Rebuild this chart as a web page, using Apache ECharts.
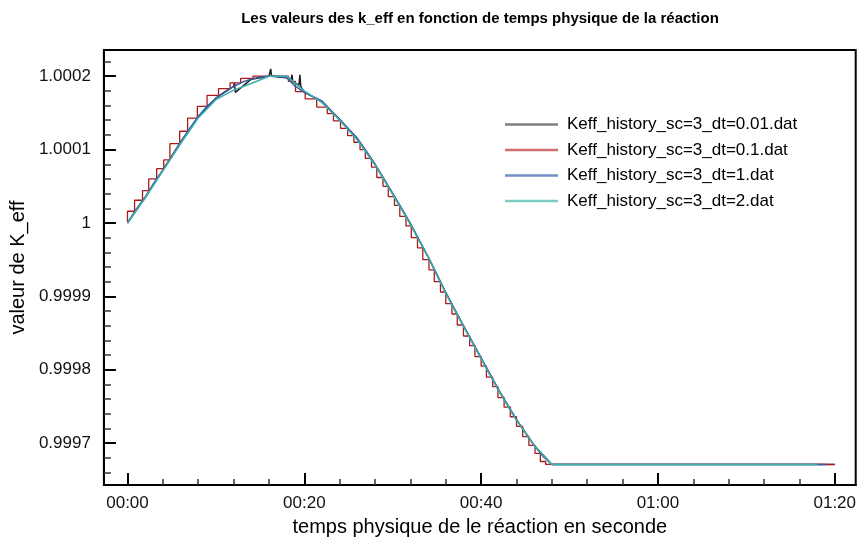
<!DOCTYPE html>
<html>
<head>
<meta charset="utf-8">
<title>k_eff</title>
<script src="https://cdn.jsdelivr.net/npm/echarts@6/dist/echarts.min.js"></script>
<style>
html, body { margin: 0; padding: 0; background: #fff; }
#chart { width: 859px; height: 545px; }
</style>
</head>
<body>
<div id="chart"></div>
<script>
// noms des fichiers (légende)
const seriesNames = [
    'Keff_history_sc=3_dt=0.01.dat',
    'Keff_history_sc=3_dt=0.1.dat',
    'Keff_history_sc=3_dt=1.dat',
    'Keff_history_sc=3_dt=2.dat'
];

// dt=0.01 (noir) - quelques pics près du maximum
const tDt001 = [0, 2, 4, 6, 8, 10, 12, 12.1, 12.2, 14, 16, 16.2, 16.3, 18, 18.5, 18.6, 18.7, 19.4, 19.5, 19.6,
    20, 22, 24, 26, 28, 30, 32, 34, 36, 38, 40, 42, 44, 46, 48, 80];
const kDt001 = [1.000000, 1.000035, 1.000072, 1.000110, 1.000145, 1.000170, 1.000186, 1.000191, 1.000178, 1.000196,
    1.000200, 1.000210, 1.000200, 1.000198, 1.000195, 1.000202, 1.000192, 1.000188, 1.000202, 1.000186,
    1.000178, 1.000166, 1.000141, 1.000115, 1.000080, 1.000040, 0.999999, 0.999954, 0.999905, 0.999860,
    0.999816, 0.999772, 0.999732, 0.999697, 0.999671, 0.999671];

// dt=0.1 (rouge, en escalier)
const tDt01 = [0, 0.8, 1.7, 2.4, 3.3, 4.1, 4.8, 5.9, 6.8, 7.9, 9.0, 10.3, 11.6, 12.8, 14.2, 15.6, 18.2,
    19.0, 20.1, 21.4, 22.6, 23.3, 24.1, 24.9, 25.6, 26.3, 26.9, 27.6, 28.2, 28.9, 29.5, 30.2, 30.8, 31.5,
    32.1, 32.8, 33.4, 34.1, 34.7, 35.4, 36.0, 36.7, 37.3, 38.0, 38.7, 39.3, 40.0, 40.6, 41.3, 41.9, 42.6,
    43.3, 44.0, 44.7, 45.4, 46.1, 46.7, 47.3, 47.6, 80];
const kDt01 = [1.000000, 1.000016, 1.000031, 1.000044, 1.000060, 1.000074, 1.000086, 1.000108, 1.000125,
    1.000143, 1.000159, 1.000174, 1.000183, 1.000191, 1.000197, 1.000200, 1.000200,
    1.000193, 1.000179, 1.000169, 1.000158, 1.000149, 1.000139, 1.000129, 1.000119, 1.000110, 1.000100,
    1.000088, 1.000076, 1.000062, 1.000050, 1.000036, 1.000024, 1.000009, 0.999996, 0.999980, 0.999966,
    0.999950, 0.999936, 0.999920, 0.999906, 0.999890, 0.999876, 0.999861, 0.999846, 0.999833, 0.999818,
    0.999805, 0.999790, 0.999777, 0.999762, 0.999749, 0.999736, 0.999723, 0.999709, 0.999697, 0.999686,
    0.999675, 0.999671, 0.999671];

// dt=1 (bleu)
const tDt1 = [0, 1, 2, 3, 4, 5, 6, 7, 8, 9, 10, 11, 12, 13, 14, 15, 16, 17, 18, 19, 20, 21, 22, 23, 24,
    25, 26, 27, 28, 29, 30, 31, 32, 33, 34, 35, 36, 37, 38, 39, 40, 41, 42, 43, 44, 45, 46, 47, 48, 79];
const kDt1 = [1.000000, 1.000019, 1.000035, 1.000055, 1.000072, 1.000090, 1.000110, 1.000128, 1.000145,
    1.000159, 1.000170, 1.000179, 1.000186, 1.000192, 1.000196, 1.000199, 1.000200, 1.000200, 1.000198,
    1.000186, 1.000178, 1.000172, 1.000166, 1.000153, 1.000141, 1.000128, 1.000115, 1.000098, 1.000080,
    1.000060, 1.000040, 1.000020, 0.999999, 0.999976, 0.999954, 0.999930, 0.999905, 0.999882, 0.999860,
    0.999838, 0.999816, 0.999794, 0.999772, 0.999752, 0.999732, 0.999714, 0.999697, 0.999682, 0.999671,
    0.999671];

// dt=2 (cyan)
const tDt2 = [0, 2, 4, 6, 8, 10, 12, 14, 16, 18, 20, 22, 24, 26, 28, 30, 32, 34, 36, 38, 40, 42, 44, 46, 48, 78];
const kDt2 = [1.000000, 1.000034, 1.000071, 1.000108, 1.000143, 1.000168, 1.000181, 1.000190, 1.000200,
    1.000200, 1.000180, 1.000164, 1.000140, 1.000113, 1.000079, 1.000039, 0.999998, 0.999954, 0.999904,
    0.999859, 0.999815, 0.999771, 0.999731, 0.999697, 0.999671, 0.999671];

// graduations
const xMajor = [0, 20, 40, 60, 80];
const xMinor = [4, 8, 12, 16, 24, 28, 32, 36, 44, 48, 52, 56, 64, 68, 72, 76];
const yMajor = [0.9997, 0.9998, 0.9999, 1.0, 1.0001, 1.0002];
const yMinor = [0.99966, 0.99968, 0.99972, 0.99974, 0.99976, 0.99978, 0.99982, 0.99984, 0.99986, 0.99988,
    0.99992, 0.99994, 0.99996, 0.99998, 1.00002, 1.00004, 1.00006, 1.00008, 1.00012, 1.00014, 1.00016,
    1.00018, 1.00022];

const lineColors = ['#1e1e1e', '#b01818', '#3c5ea8', '#38b0ac'];
const legendColors = ['#7f7f7f', '#cf6e6e', '#7190c6', '#7ecbc4'];

const FONT = '"Liberation Sans", Arial, sans-serif';

function pairs(ts, ks) {
    return ts.map((t, i) => [t, ks[i]]);
}

function pad(n) {
    return (n < 10 ? '0' : '') + n;
}

const xMin = -2.67, xMax = 82.37;
const yMin = 0.999643, yMax = 1.0002357;

const chart = echarts.init(document.getElementById('chart'));

const option = {
    animation: false,
    backgroundColor: '#fff',
    title: {
        text: 'Les valeurs des k_eff en fonction de temps physique de la réaction',
        left: 475,
        top: 6,
        textAlign: 'center',
        textStyle: { fontFamily: FONT, fontSize: 15, fontWeight: 'bold', color: '#000' }
    },
    legend: {
        orient: 'vertical',
        left: 500,
        top: 111,
        itemWidth: 53,
        itemHeight: 17,
        itemGap: 8.5,
        textStyle: { fontFamily: FONT, fontSize: 17, color: '#000', padding: [0, 0, 0, 4] },
        data: seriesNames.map((n, i) => ({
            name: n,
            icon: 'path://M0,0 L53,0 L53,2.5 L0,2.5 Z',
            itemStyle: { color: legendColors[i] }
        }))
    },
    grid: {
        left: 103,
        right: 2,
        top: 50,
        bottom: 60,
        show: true,
        borderColor: '#000',
        borderWidth: 2
    },
    xAxis: [
        {
            type: 'value',
            min: xMin,
            max: xMax,
            position: 'bottom',
            name: 'temps physique de le réaction en seconde',
            nameLocation: 'middle',
            nameGap: 32,
            nameTextStyle: { fontFamily: FONT, fontSize: 20, color: '#000' },
            axisLine: { show: true, onZero: false, lineStyle: { color: '#000', width: 2 } },
            axisTick: {
                show: true, inside: true, length: 12, customValues: xMajor,
                lineStyle: { color: '#000', width: 2 }
            },
            axisLabel: {
                customValues: xMajor,
                margin: 10,
                fontFamily: FONT,
                fontSize: 17,
                color: '#111',
                formatter: v => {
                    const s = Math.round(v);
                    return pad(Math.floor(s / 60)) + ':' + pad(s % 60);
                }
            },
            splitLine: { show: false }
        },
        {
            type: 'value',
            min: xMin,
            max: xMax,
            position: 'bottom',
            axisLine: { show: false, onZero: false },
            axisTick: {
                show: true, inside: true, length: 6, customValues: xMinor,
                lineStyle: { color: '#333', width: 1.5 }
            },
            axisLabel: { show: false },
            splitLine: { show: false }
        }
    ],
    yAxis: [
        {
            type: 'value',
            min: yMin,
            max: yMax,
            position: 'left',
            name: 'valeur de K_eff',
            nameLocation: 'middle',
            nameGap: 65,
            nameRotate: 90,
            nameTextStyle: { fontFamily: FONT, fontSize: 20, color: '#000' },
            axisLine: { show: true, onZero: false, lineStyle: { color: '#000', width: 2 } },
            axisTick: {
                show: true, inside: true, length: 12, customValues: yMajor,
                lineStyle: { color: '#000', width: 2 }
            },
            axisLabel: {
                customValues: yMajor,
                margin: 13,
                fontFamily: FONT,
                fontSize: 17,
                color: '#111',
                formatter: v => String(Number(v.toFixed(4)))
            },
            splitLine: { show: false }
        },
        {
            type: 'value',
            min: yMin,
            max: yMax,
            position: 'left',
            axisLine: { show: false, onZero: false },
            axisTick: {
                show: true, inside: true, length: 7, customValues: yMinor,
                lineStyle: { color: '#333', width: 1.5 }
            },
            axisLabel: { show: false },
            splitLine: { show: false }
        }
    ],
    series: [
        {
            name: seriesNames[0], type: 'line', symbol: 'none',
            data: pairs(tDt001, kDt001),
            lineStyle: { color: lineColors[0], width: 1.5 },
            itemStyle: { color: lineColors[0] }
        },
        {
            name: seriesNames[1], type: 'line', symbol: 'none', step: 'start',
            data: pairs(tDt01, kDt01),
            lineStyle: { color: lineColors[1], width: 1.3 },
            itemStyle: { color: lineColors[1] }
        },
        {
            name: seriesNames[2], type: 'line', symbol: 'none',
            data: pairs(tDt1, kDt1),
            lineStyle: { color: lineColors[2], width: 1.5 },
            itemStyle: { color: lineColors[2] }
        },
        {
            name: seriesNames[3], type: 'line', symbol: 'none',
            data: pairs(tDt2, kDt2),
            lineStyle: { color: lineColors[3], width: 1.5 },
            itemStyle: { color: lineColors[3] }
        }
    ]
};

chart.setOption(option);
</script>
</body>
</html>
